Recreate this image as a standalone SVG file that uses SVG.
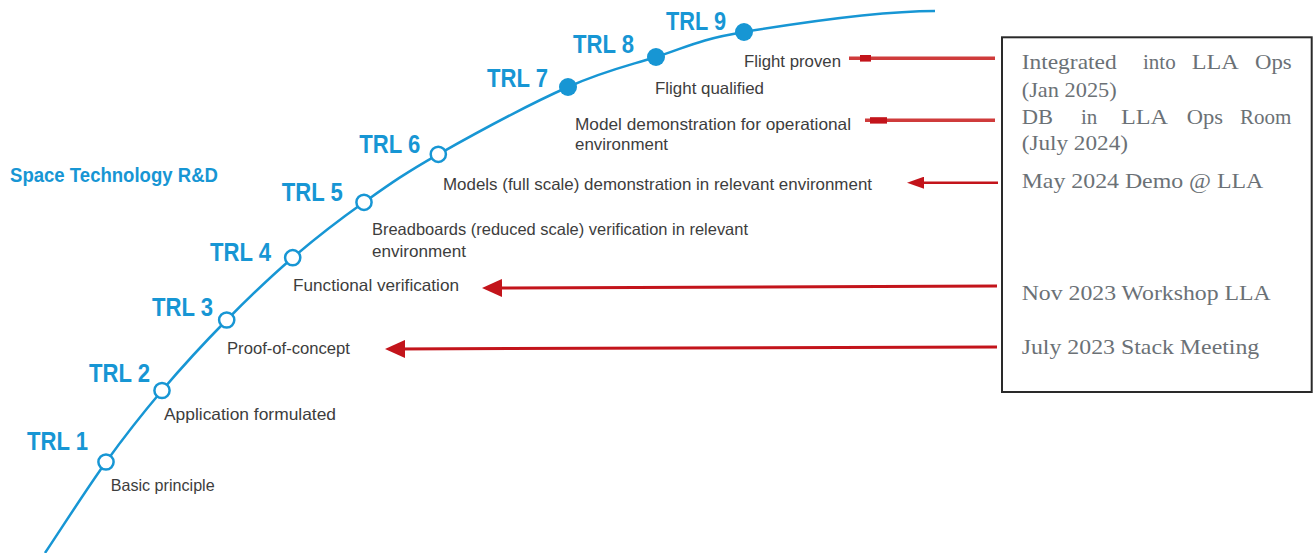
<svg xmlns="http://www.w3.org/2000/svg" width="1316" height="553" viewBox="0 0 1316 553">
<defs>
<style>
.trl{font-family:"Liberation Sans",Arial,sans-serif;font-weight:bold;font-size:26px;fill:#1796d4}
.ttl{font-family:"Liberation Sans",Arial,sans-serif;font-weight:bold;font-size:20px;fill:#1796d4}
.lbl{font-family:"Liberation Sans",Arial,sans-serif;font-size:16.5px;fill:#3d3d3d}
.box{font-family:"Liberation Serif","Times New Roman",serif;font-size:21px;fill:#6b7176}
.ring{fill:#fff;stroke:#1796d4;stroke-width:2.5}
.dot{fill:#1796d4}
.curve{fill:none;stroke:#1796d4;stroke-width:2.5}
.arr{stroke:#c3141b;stroke-width:3;fill:none}
.arrs{stroke:#c3141b;stroke-width:2.5;fill:none}
.arrl{stroke:#cf3b3b;stroke-width:3.5;fill:none}
.hd{fill:#c3141b}
</style>
<marker id="ahL" markerUnits="userSpaceOnUse" markerWidth="20" markerHeight="18" refX="10" refY="9" orient="auto">
<path d="M0,0 L20,9 L0,18 Z" fill="#c3141b"/>
</marker>
<marker id="ahS" markerUnits="userSpaceOnUse" markerWidth="17" markerHeight="12" refX="8" refY="6" orient="auto">
<path d="M0,0 L17,6 L0,12 Z" fill="#c3141b"/>
</marker>
</defs>
<rect width="1316" height="553" fill="#fff"/>

<g id="title">
<text class="ttl" x="10" y="182" textLength="208" lengthAdjust="spacingAndGlyphs">Space Technology R&amp;D</text>
</g>

<g id="connectors">
<path class="curve" d="M45,553 C65,523 86.5,489.1 106,462 C125.5,434.9 141.9,414.2 162,390.5 C182.1,366.8 204.9,342.1 226.7,320 C248.5,297.9 269.8,277.3 292.7,257.7 C315.6,238.1 339.7,219.5 364,202.3 C388.3,185.1 404.3,173.5 438.3,154.3 C472.3,135.1 531.7,103.2 568,87 C604.3,70.8 626.7,66.2 656,57 C685.3,47.8 697.5,39.7 744,32 C790.5,24.3 880,11 935,11"/>
<line class="arrl" x1="849" y1="58.3" x2="995" y2="58.3"/>
<rect class="hd" x="860" y="55" width="11" height="6.6"/>
<line class="arrl" x1="865" y1="120.3" x2="995" y2="120.3"/>
<rect class="hd" x="870" y="117.2" width="17" height="6.4"/>
<line class="arrs" x1="998" y1="182.7" x2="916" y2="182.7" marker-end="url(#ahS)"/>
<line class="arr" x1="997" y1="286" x2="492" y2="288" marker-end="url(#ahL)"/>
<line class="arr" x1="997" y1="347" x2="395" y2="349" marker-end="url(#ahL)"/>
</g>

<g id="trl1">
<circle class="ring" cx="106" cy="462" r="7.6"/>
<text class="trl" x="27" y="450" textLength="61" lengthAdjust="spacingAndGlyphs">TRL 1</text>
<text class="lbl" x="110.7" y="491" textLength="104" lengthAdjust="spacingAndGlyphs">Basic principle</text>
</g>
<g id="trl2">
<circle class="ring" cx="162" cy="390.5" r="7.6"/>
<text class="trl" x="89" y="381.7" textLength="61" lengthAdjust="spacingAndGlyphs">TRL 2</text>
<text class="lbl" x="164" y="420" textLength="172" lengthAdjust="spacingAndGlyphs">Application formulated</text>
</g>
<g id="trl3">
<circle class="ring" cx="226.7" cy="320" r="7.6"/>
<text class="trl" x="152" y="316" textLength="61" lengthAdjust="spacingAndGlyphs">TRL 3</text>
<text class="lbl" x="227" y="354" textLength="123" lengthAdjust="spacingAndGlyphs">Proof-of-concept</text>
</g>
<g id="trl4">
<circle class="ring" cx="292.7" cy="257.7" r="7.6"/>
<text class="trl" x="210" y="260.7" textLength="61" lengthAdjust="spacingAndGlyphs">TRL 4</text>
<text class="lbl" x="293" y="291" textLength="166" lengthAdjust="spacingAndGlyphs">Functional verification</text>
</g>
<g id="trl5">
<circle class="ring" cx="364" cy="202.3" r="7.6"/>
<text class="trl" x="281.7" y="201" textLength="61" lengthAdjust="spacingAndGlyphs">TRL 5</text>
<text class="lbl" x="372" y="235" textLength="376" lengthAdjust="spacingAndGlyphs">Breadboards (reduced scale) verification in relevant</text>
<text class="lbl" x="372" y="257" textLength="94" lengthAdjust="spacingAndGlyphs">environment</text>
</g>
<g id="trl6">
<circle class="ring" cx="438.3" cy="154.3" r="7.6"/>
<text class="trl" x="359.3" y="153" textLength="61" lengthAdjust="spacingAndGlyphs">TRL 6</text>
<text class="lbl" x="443" y="190" textLength="429" lengthAdjust="spacingAndGlyphs">Models (full scale) demonstration in relevant environment</text>
</g>
<g id="trl7">
<circle class="dot" cx="568" cy="87" r="9"/>
<text class="trl" x="487" y="87" textLength="61" lengthAdjust="spacingAndGlyphs">TRL 7</text>
<text class="lbl" x="575" y="130" textLength="276" lengthAdjust="spacingAndGlyphs">Model demonstration for operational</text>
<text class="lbl" x="575" y="150" textLength="93" lengthAdjust="spacingAndGlyphs">environment</text>
</g>
<g id="trl8">
<circle class="dot" cx="656" cy="57" r="9"/>
<text class="trl" x="573" y="53" textLength="61" lengthAdjust="spacingAndGlyphs">TRL 8</text>
<text class="lbl" x="655" y="94" textLength="109" lengthAdjust="spacingAndGlyphs">Flight qualified</text>
</g>
<g id="trl9">
<circle class="dot" cx="744" cy="32" r="9"/>
<text class="trl" x="666" y="29.5" textLength="60" lengthAdjust="spacingAndGlyphs">TRL 9</text>
<text class="lbl" x="744" y="67" textLength="97" lengthAdjust="spacingAndGlyphs">Flight proven</text>
</g>

<g id="milestones">
<rect x="1002" y="37.3" width="309.7" height="354.7" fill="#fff" stroke="#2a2a2a" stroke-width="2"/>
<text class="box" x="1021.7" y="68.5" textLength="95" lengthAdjust="spacingAndGlyphs">Integrated</text>
<text class="box" x="1143" y="68.5">into</text>
<text class="box" x="1191.7" y="68.5" textLength="47" lengthAdjust="spacingAndGlyphs">LLA</text>
<text class="box" x="1255" y="68.5" textLength="36.7" lengthAdjust="spacingAndGlyphs">Ops</text>
<text class="box" x="1021.7" y="96.5" textLength="95" lengthAdjust="spacingAndGlyphs">(Jan 2025)</text>
<text class="box" x="1021.7" y="124" textLength="31.3" lengthAdjust="spacingAndGlyphs">DB</text>
<text class="box" x="1081" y="124">in</text>
<text class="box" x="1121" y="124" textLength="47" lengthAdjust="spacingAndGlyphs">LLA</text>
<text class="box" x="1186.7" y="124" textLength="36.3" lengthAdjust="spacingAndGlyphs">Ops</text>
<text class="box" x="1240" y="124">Room</text>
<text class="box" x="1021.7" y="149.5" textLength="106.3" lengthAdjust="spacingAndGlyphs">(July 2024)</text>
<text class="box" x="1021.7" y="188.3" textLength="241.6" lengthAdjust="spacingAndGlyphs">May 2024 Demo @ LLA</text>
<text class="box" x="1021.7" y="300" textLength="249" lengthAdjust="spacingAndGlyphs">Nov 2023 Workshop LLA</text>
<text class="box" x="1021.7" y="354.3" textLength="237.6" lengthAdjust="spacingAndGlyphs">July 2023 Stack Meeting</text>
</g>
</svg>
